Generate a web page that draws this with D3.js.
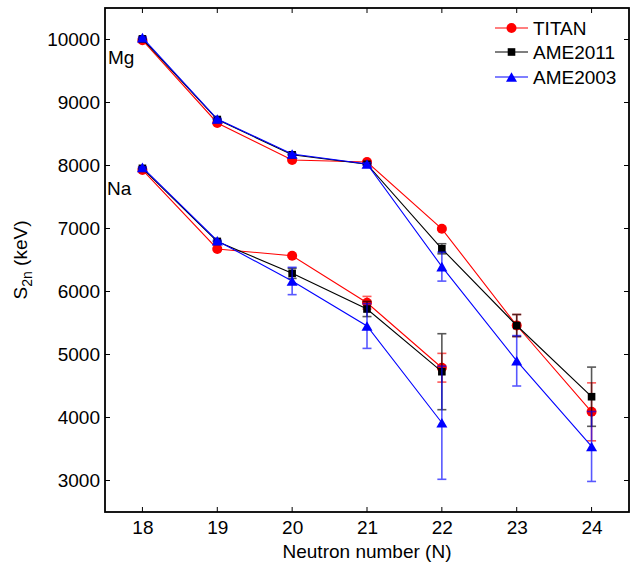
<!DOCTYPE html>
<html>
<head>
<meta charset="utf-8">
<script src="https://cdn.jsdelivr.net/npm/d3@7"></script>
<style>
  html, body { margin: 0; padding: 0; background: #fff; }
  svg { display: block; font-family: "Liberation Sans", Arial, sans-serif; }
</style>
</head>
<body>
<svg id="chart" width="632" height="562"></svg>
<script>
// ---- data ----
const neutronsMg = [18, 19, 20, 21, 22, 23, 24];
const neutronsNa = [18, 19, 20, 21, 22];
const xTicks = [18, 19, 20, 21, 22, 23, 24];
const yTicks = [3000, 4000, 5000, 6000, 7000, 8000, 9000, 10000];

const titanMg    = [9990, 8675, 8087, 8056, 6995, 5460, 4090];
const titanMgErr = [10, 10, 10, 10, 15, 175, 460];
const titanNa    = [7930, 6675, 6568, 5822, 4790];
const titanNaErr = [10, 10, 15, 100, 228];

const ame11Mg    = [10010, 8730, 8170, 8020, 6678, 5460, 4330];
const ame11MgErr = [5, 5, 5, 10, 80, 175, 470];
const ame11Na    = [7955, 6795, 6288, 5722, 4727];
const ame11NaErr = [5, 5, 80, 120, 603];

const ame03Mg    = [10030, 8738, 8183, 8024, 6395, 4900, 3540];
const ame03MgErr = [10, 10, 10, 20, 230, 400, 555];
const ame03Na    = [7970, 6806, 6167, 5452, 3917];
const ame03NaErr = [10, 10, 217, 355, 898];

const seriesNames = ["TITAN", "AME2011", "AME2003"];
const seriesColors = ["#ff0000", "#000000", "#0000ff"];
const seriesMarkers = ["circle", "square", "triangle"];

const series = [
  { name: seriesNames[0], color: seriesColors[0], marker: seriesMarkers[0],
    groups: [{ n: neutronsMg, v: titanMg, e: titanMgErr }, { n: neutronsNa, v: titanNa, e: titanNaErr }] },
  { name: seriesNames[1], color: seriesColors[1], marker: seriesMarkers[1],
    groups: [{ n: neutronsMg, v: ame11Mg, e: ame11MgErr }, { n: neutronsNa, v: ame11Na, e: ame11NaErr }] },
  { name: seriesNames[2], color: seriesColors[2], marker: seriesMarkers[2],
    groups: [{ n: neutronsMg, v: ame03Mg, e: ame03MgErr }, { n: neutronsNa, v: ame03Na, e: ame03NaErr }] }
];

// ---- layout ----
const L = 105, R = 629, T = 8, B = 512;
const svg = d3.select("#chart");
const x = d3.scaleLinear().domain([17.5, 24.5]).range([L, R]);
const y = d3.scaleLinear().domain([2500, 10500]).range([B, T]);
const FONT = 19;
const TICK = 5;

// ---- data marks ----
function drawMarker(g, type, cx, cy, color) {
  if (type === "circle") {
    g.append("circle").attr("cx", cx).attr("cy", cy).attr("r", 5).attr("fill", color);
  } else if (type === "square") {
    g.append("rect").attr("x", cx - 3.8).attr("y", cy - 3.8).attr("width", 7.6).attr("height", 7.6).attr("fill", color);
  } else {
    const w = 5.5, h = 4.8;
    g.append("path")
      .attr("d", `M${cx},${cy - h} L${cx + w},${cy + h} L${cx - w},${cy + h} Z`)
      .attr("fill", color);
  }
}

const line = d3.line().x(d => x(d[0])).y(d => y(d[1]));

series.forEach(s => {
  const g = svg.append("g");
  s.groups.forEach(grp => {
    const pts = grp.n.map((n, i) => [n, grp.v[i], grp.e[i]]);
    g.append("path").datum(pts).attr("d", line)
      .attr("fill", "none").attr("stroke", s.color).attr("stroke-width", 1.1);
    // error bars
    pts.forEach(p => {
      const cx = x(p[0]), y1 = y(p[1] + p[2]), y2 = y(p[1] - p[2]);
      const eg = g.append("g").attr("stroke", s.color).attr("stroke-width", 1.6).attr("opacity", 0.65);
      eg.append("line").attr("x1", cx).attr("x2", cx).attr("y1", y1).attr("y2", y2);
      eg.append("line").attr("x1", cx - 4.5).attr("x2", cx + 4.5).attr("y1", y1).attr("y2", y1);
      eg.append("line").attr("x1", cx - 4.5).attr("x2", cx + 4.5).attr("y1", y2).attr("y2", y2);
    });
    pts.forEach(p => drawMarker(g, s.marker, x(p[0]), y(p[1]), s.color));
  });
});

// ---- axes box & ticks ----
const axisG = svg.append("g").attr("stroke", "#000");
axisG.append("rect").attr("x", L).attr("y", T).attr("width", R - L).attr("height", B - T)
  .attr("fill", "none").attr("stroke-width", 1.8);

const xAxisB = d3.axisBottom(x).tickValues(xTicks).tickSize(0).tickPadding(0);
xTicks.forEach(t => {
  axisG.append("line").attr("x1", x(t)).attr("x2", x(t)).attr("y1", B).attr("y2", B - TICK).attr("stroke-width", 1);
  axisG.append("line").attr("x1", x(t)).attr("x2", x(t)).attr("y1", T).attr("y2", T + TICK).attr("stroke-width", 1);
});
yTicks.forEach(t => {
  axisG.append("line").attr("x1", L).attr("x2", L + TICK).attr("y1", y(t)).attr("y2", y(t)).attr("stroke-width", 1);
  axisG.append("line").attr("x1", R).attr("x2", R - TICK).attr("y1", y(t)).attr("y2", y(t)).attr("stroke-width", 1);
});

// tick labels via d3 axes (tick lines hidden)
const gx = svg.append("g").attr("transform", `translate(0,${B})`)
  .call(d3.axisBottom(x).tickValues(xTicks).tickSize(0).tickPadding(9).tickFormat(d3.format("d")));
gx.select(".domain").remove();
gx.selectAll("text").attr("font-size", FONT).attr("font-family", "Liberation Sans, Arial, sans-serif").attr("fill", "#000");

const gy = svg.append("g").attr("transform", `translate(${L},0)`)
  .call(d3.axisLeft(y).tickValues(yTicks).tickSize(0).tickPadding(5).tickFormat(d3.format("d")));
gy.select(".domain").remove();
gy.selectAll("text").attr("font-size", FONT).attr("font-family", "Liberation Sans, Arial, sans-serif").attr("fill", "#000");

// ---- axis titles ----
svg.append("text").attr("x", (L + R) / 2).attr("y", 558).attr("text-anchor", "middle")
  .attr("font-size", FONT).text("Neutron number (N)");

const yl = svg.append("text").attr("transform", `translate(27,${(T + B) / 2}) rotate(-90)`)
  .attr("text-anchor", "middle").attr("font-size", FONT);
yl.append("tspan").text("S");
yl.append("tspan").attr("font-size", 14).attr("dy", 5).text("2n");
yl.append("tspan").attr("dy", -5).text(" (keV)");

// ---- isotope labels ----
svg.append("text").attr("x", 108).attr("y", 64).attr("font-size", FONT).text("Mg");
svg.append("text").attr("x", 107).attr("y", 195).attr("font-size", FONT).text("Na");

// ---- legend ----
const legY = [28, 52, 77];
series.forEach((s, i) => {
  const g = svg.append("g");
  g.append("line").attr("x1", 495).attr("x2", 528).attr("y1", legY[i]).attr("y2", legY[i])
    .attr("stroke", s.color).attr("stroke-width", 1.1);
  drawMarker(g, s.marker, 511.5, legY[i], s.color);
  g.append("text").attr("x", 533).attr("y", legY[i]).attr("dy", "0.36em")
    .attr("font-size", FONT).text(s.name);
});
</script>
</body>
</html>
